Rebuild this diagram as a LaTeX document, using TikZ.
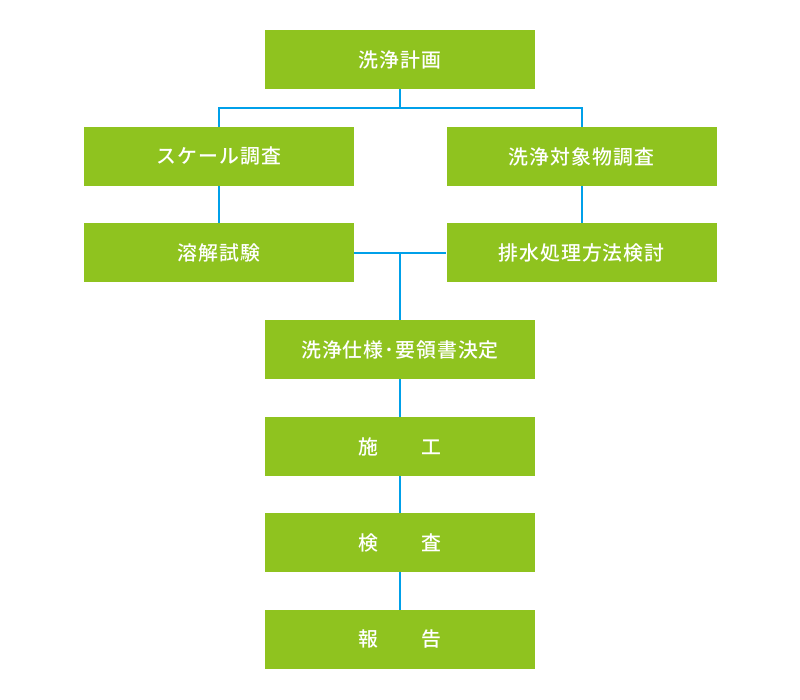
\documentclass[tikz,border=0pt]{standalone}
\usepackage{fontspec}
\newfontfamily\jp[LetterSpace=5]{Noto Sans CJK JP Medium}
\definecolor{boxgreen}{HTML}{8FC31F}
\definecolor{lineblue}{HTML}{00A0E9}
\begin{document}
\begin{tikzpicture}[x=0.75pt,y=-0.75pt,
  box/.style={fill=boxgreen,draw=none,minimum width=202.5pt,minimum height=44.25pt,inner sep=0pt,
    text=white,font=\jp\fontsize{14.9pt}{17pt}\selectfont},
  conn/.style={draw=lineblue,line width=1.5pt}]
\useasboundingbox (0,0) rectangle (800,700);
\node[box] (plan)   at (400,59.5)  {洗浄計画};
\node[box] (scale)  at (219,156.5) {スケール調査};
\node[box] (obj)    at (581.5,156.5) {洗浄対象物調査};
\node[box] (diss)   at (219,252.5) {溶解試験};
\node[box] (drain)  at (581.5,252.5) {排水処理方法検討};
\node[box] (spec)   at (400,349.5) {洗浄仕様･要領書決定};
\node[box] (work)   at (400,446.5) {施　　工};
\node[box] (insp)   at (400,542.5) {検　　査};
\node[box] (report) at (400,639.5) {報　　告};
\coordinate (j1) at (400,108);
\coordinate (j2) at (400,252.5);
\draw[conn] (plan.south) -- (j1);
\draw[conn] (scale.north) |- (j1) -| (obj.north);
\draw[conn] (scale.south) -- (diss.north);
\draw[conn] (obj.south) -- (drain.north);
\draw[conn] (diss.east) -- (drain.west);
\draw[conn] (j2) -- (spec.north);
\draw[conn] (spec.south) -- (work.north);
\draw[conn] (work.south) -- (insp.north);
\draw[conn] (insp.south) -- (report.north);
\end{tikzpicture}
\end{document}
